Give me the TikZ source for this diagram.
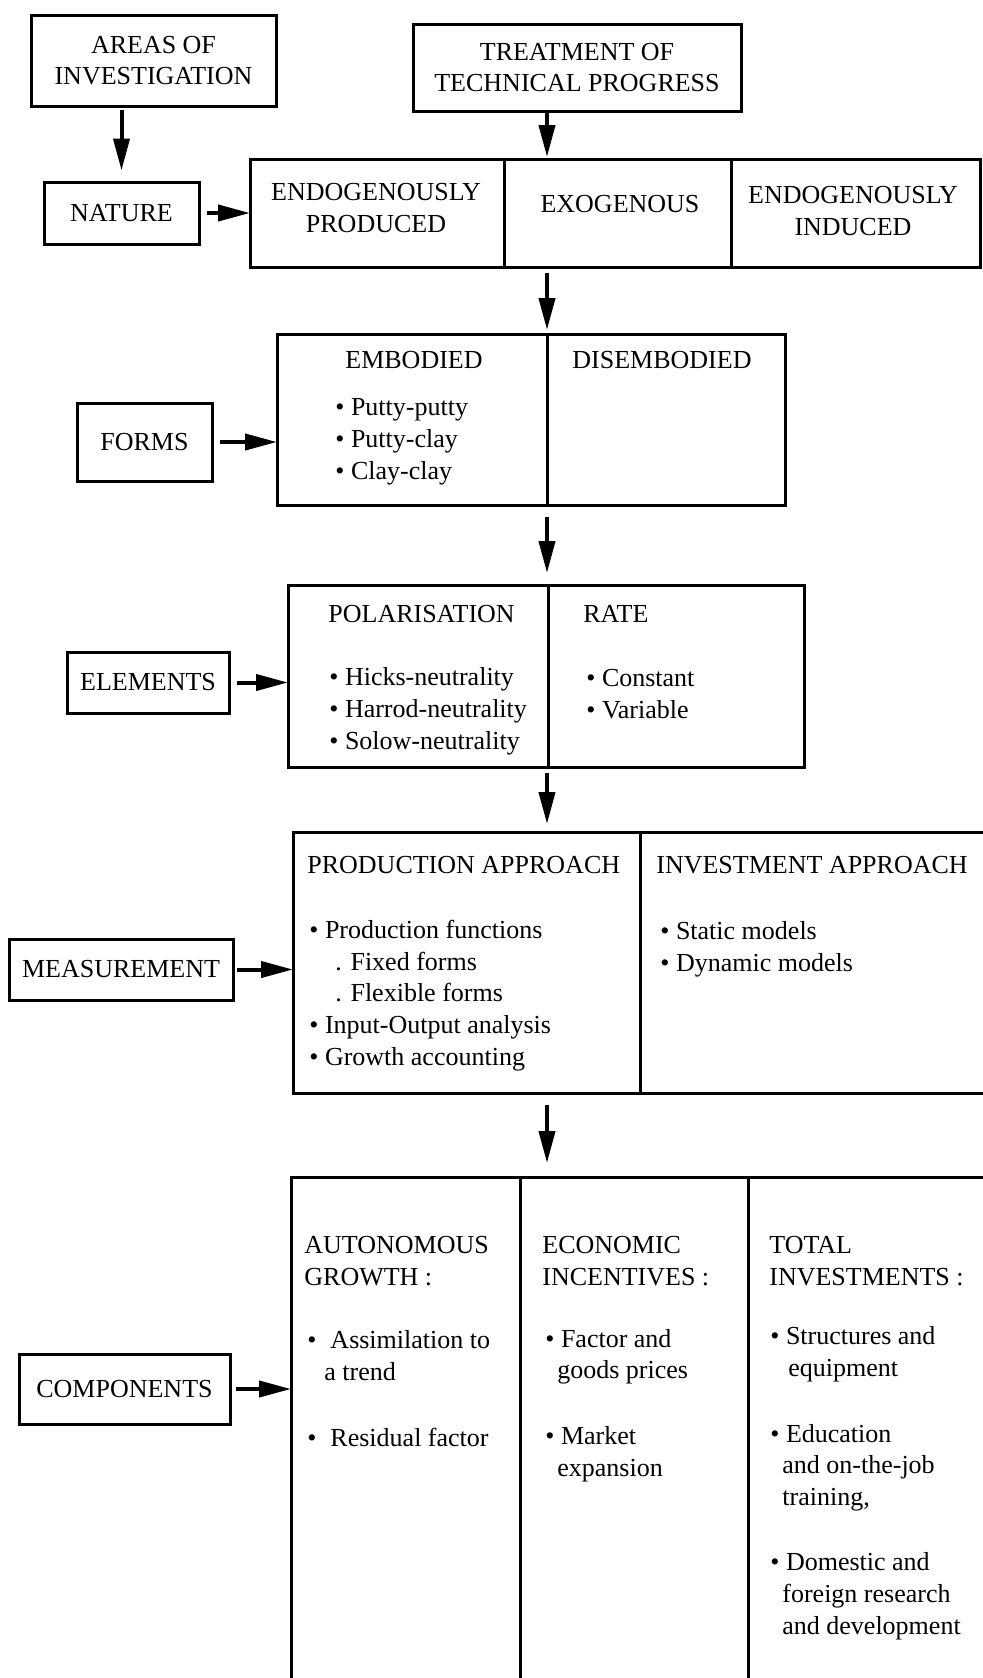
\documentclass[tikz,border=0pt]{standalone}
\usepackage{fontspec}
\setmainfont{Liberation Serif}
\usepackage{tikz}
\usetikzlibrary{positioning,
                calc,
                arrows.meta}
\newcommand{\diagfont}{\fontsize{13}{15.8}\selectfont}

\begin{document}
\begin{tikzpicture}[x=0.5pt,y=-0.5pt]

\tikzset{
headbox/.style={
draw=black,
line width=1.5pt,
inner sep=0pt,
align=center,
font=\diagfont
},
colbox/.style={
draw=black,
line width=1.5pt,
inner sep=0pt,
outer sep=0pt,
anchor=north west
},
coltitle/.style={
inner sep=0pt,
align=center,
anchor=base,
font=\diagfont
},
coltext/.style={
inner sep=0pt,
align=left,
anchor=base west,
font=\diagfont
},
flowarrow/.style={
line width=2pt,
-{Triangle[length=16pt,width=8pt]}
}
}

\useasboundingbox (0,0) rectangle (982,1678);
\coordinate (spine) at (547,0);

%--------------------------------------------------
% HEADERS
%--------------------------------------------------

\node[headbox,minimum width=122.5pt,minimum height=45.5pt] (areas)
at (153.5,60.5) {AREAS OF\\INVESTIGATION};

\node[headbox,minimum width=164pt,minimum height=43.5pt] (treat)
at (577,67.5) {TREATMENT OF\\TECHNICAL PROGRESS};

%--------------------------------------------------
% NATURE
%--------------------------------------------------

\node[headbox,minimum width=77.5pt,minimum height=31pt] (nature)
at (121.5,213) {NATURE};

\node[colbox,minimum width=127pt,minimum height=54pt] (prodcol)
at (250,159) {};
\node[colbox,minimum width=113.5pt,minimum height=54pt,right=0pt of prodcol] (exogcol) {};
\node[colbox,minimum width=124.5pt,minimum height=54pt,right=0pt of exogcol] (inducol) {};

% base anchors sit on the last line
\node[coltitle] (prodtxt) at (376,232)
{ENDOGENOUSLY\\PRODUCED};
\node[coltitle] (exogtxt) at (620,212)
{EXOGENOUS};
\node[coltitle] (inductxt) at (853,235)
{ENDOGENOUSLY\\INDUCED};

%--------------------------------------------------
% FORMS
%--------------------------------------------------

\node[headbox,minimum width=67.5pt,minimum height=39pt] (forms)
at (144.5,442) {FORMS};

\node[colbox,minimum width=135pt,minimum height=85.5pt] (embcol)
at (277,334) {};
\node[colbox,minimum width=119pt,minimum height=85.5pt,right=0pt of embcol] (disembcol) {};

\node[coltitle] (embtitle) at (414,368)
{EMBODIED};
\node[coltext] (embitems) at (335,479)
{• Putty-putty\\• Putty-clay\\• Clay-clay};
\node[coltitle] (disembtitle) at (662,368)
{DISEMBODIED};

%--------------------------------------------------
% ELEMENTS
%--------------------------------------------------

\node[headbox,minimum width=81pt,minimum height=30.5pt] (elements)
at (148,682.5) {ELEMENTS};

\node[colbox,minimum width=130pt,minimum height=91pt] (polcol)
at (288,585) {};
\node[colbox,minimum width=128pt,minimum height=91pt,right=0pt of polcol] (ratecol) {};

\node[coltext] (poltitle) at (328,622)
{POLARISATION};
\node[coltext] (politems) at (329,749)
{• Hicks-neutrality\\• Harrod-neutrality\\• Solow-neutrality};
\node[coltext] (ratetitle) at (583,622)
{RATE};
\node[coltext] (rateitems) at (586,718)
{• Constant\\• Variable};

%--------------------------------------------------
% MEASUREMENT
%--------------------------------------------------

\node[headbox,minimum width=112pt,minimum height=30.5pt] (measure)
at (121,969.5) {MEASUREMENT};

\node[colbox,minimum width=173.5pt,minimum height=130.5pt] (prodappcol)
at (293,832) {};
\node[colbox,minimum width=175pt,minimum height=130.5pt,right=0pt of prodappcol] (invappcol) {};

\node[coltext] (prodapptitle) at (307,873)
{PRODUCTION APPROACH};
\node[coltext] (prodappitems) at (309,1065)
{• Production functions\\\hspace*{13pt}. Fixed forms\\\hspace*{13pt}. Flexible forms\\• Input-Output analysis\\• Growth accounting};
\node[coltext] (invapptitle) at (656,873)
{INVESTMENT APPROACH};
\node[coltext] (invappitems) at (660,971)
{• Static models\\• Dynamic models};

%--------------------------------------------------
% COMPONENTS
%--------------------------------------------------

\node[headbox,minimum width=105.5pt,minimum height=35pt] (compon)
at (124.5,1389) {COMPONENTS};

\node[colbox,minimum width=114.5pt,minimum height=260pt] (autocol)
at (291,1177) {};
\node[colbox,minimum width=114pt,minimum height=260pt,right=0pt of autocol] (econcol) {};
\node[colbox,minimum width=121pt,minimum height=260pt,right=0pt of econcol] (totcol) {};

\node[coltext] (autotitle) at (304,1285)
{AUTONOMOUS\\GROWTH :};
\node[coltext] (autoitems) at (307,1446)
{•\hspace{7pt}Assimilation to\\\hspace*{8.5pt}a trend\\[17pt]•\hspace{7pt}Residual factor};
\node[coltext] (econtitle) at (542,1285)
{ECONOMIC\\INCENTIVES :};
\node[coltext] (econitems) at (545,1476)
{• Factor and\\\hspace*{6pt}goods prices\\[17pt]• Market\\\hspace*{6pt}expansion};
\node[coltext] (tottitle) at (769,1285)
{TOTAL\\INVESTMENTS :};
\node[coltext] (totitems) at (770,1634)
{• Structures and\\\hspace*{9pt}equipment\\[17pt]• Education\\\hspace*{6pt}and on-the-job\\\hspace*{6pt}training,\\[17pt]• Domestic and\\\hspace*{6pt}foreign research\\\hspace*{6pt}and development};

%--------------------------------------------------
% ARROWS
%--------------------------------------------------

\draw[flowarrow,shorten <=1pt,shorten >=5pt] (areas.south -| nature.north) -- (nature.north);
\draw[flowarrow,shorten >=1pt] (treat.south -| spine) -- (exogcol.north -| spine);
\draw[flowarrow,shorten <=3pt,shorten >=2pt] (exogcol.south -| spine) -- (embcol.north -| spine);
\draw[flowarrow,shorten <=6pt,shorten >=6pt] (embcol.south -| spine) -- (polcol.north -| spine);
\draw[flowarrow,shorten <=3pt,shorten >=4pt] (polcol.south -| spine) -- (prodappcol.north -| spine);
\draw[flowarrow,shorten <=6pt,shorten >=7pt] (prodappcol.south -| spine) -- (econcol.north -| spine);

\draw[flowarrow,shorten <=3pt] (nature.east) -- (nature.east -| prodcol.west);
\draw[flowarrow,shorten <=3pt] (forms.east) -- (forms.east -| embcol.west);
\draw[flowarrow,shorten <=3pt] (elements.east) -- (elements.east -| polcol.west);
\draw[flowarrow,shorten <=1pt] (measure.east) -- (measure.east -| prodappcol.west);
\draw[flowarrow,shorten <=2pt] (compon.east) -- (compon.east -| autocol.west);

\end{tikzpicture}
\end{document}
